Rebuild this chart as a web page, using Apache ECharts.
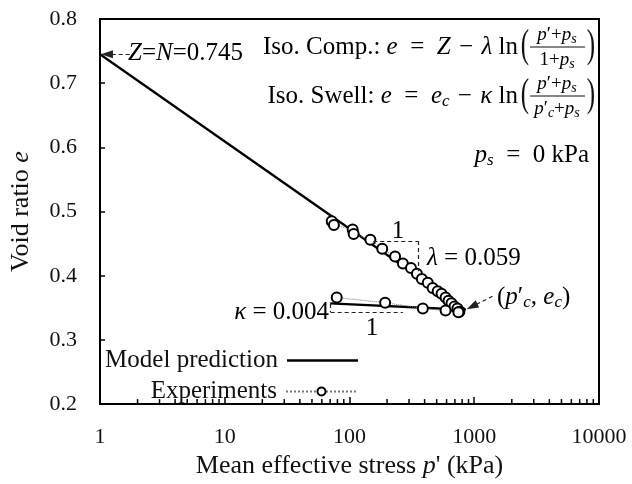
<!DOCTYPE html>
<html>
<head>
<meta charset="utf-8">
<script src="https://cdn.jsdelivr.net/npm/echarts@6/dist/echarts.min.js"></script>
<style>
  html, body { margin: 0; padding: 0; background: #fff; }
  #chart { width: 632px; height: 484px; }
</style>
</head>
<body>
<div id="chart"></div>
<script>
// Isotropic compression / swelling: void ratio against mean effective stress (log scale)

// Model prediction: compression line from (1, Z) to (p'c, ec), then swelling line back
const compModelP = [1, 850];
const compModelE = [0.745, 0.347];
const swellModelP = [850, 70];
const swellModelE = [0.347, 0.357];

// Experimental points: loading branch, then unloading branch
const compExpP = [72, 75, 106, 108, 147, 183, 232, 268, 311, 347, 380, 424, 464, 509, 547, 589, 622, 657, 694, 733, 760];
const compExpE = [0.485, 0.479, 0.472, 0.465, 0.456, 0.442, 0.430, 0.419, 0.412, 0.403, 0.395, 0.389, 0.381, 0.376, 0.372, 0.366, 0.361, 0.357, 0.352, 0.349, 0.344];
const swellExpP = [746, 589, 387, 193, 79];
const swellExpE = [0.343, 0.346, 0.349, 0.358, 0.366];

// Axes
const xTickLabels = ['1', '10', '100', '1000', '10000'];
const yTickLabels = ['0.2', '0.3', '0.4', '0.5', '0.6', '0.7', '0.8'];
const minorTicksX = [2, 3, 4, 5, 6, 7, 8, 9,
  20, 30, 40, 50, 60, 70, 80, 90,
  200, 300, 400, 500, 600, 700, 800, 900,
  2000, 3000, 4000, 5000, 6000, 7000, 8000, 9000];

const FONT = "'Liberation Serif', 'Times New Roman', serif";
const INK = '#111';
const EN = '\u2002';   // en space around "="
const TH = '\u2004';   // three-per-em space around "−"

const rich = {
  n: { fontFamily: FONT, fontSize: 25, color: INK },
  i: { fontFamily: FONT, fontSize: 25, fontStyle: 'italic', color: INK },
  sub: { fontFamily: FONT, fontSize: 17, fontStyle: 'italic', color: INK, padding: [12, 0, 0, 0] },
  fn: { fontFamily: FONT, fontSize: 19, color: INK },
  fi: { fontFamily: FONT, fontSize: 19, fontStyle: 'italic', color: INK },
  fs: { fontFamily: FONT, fontSize: 14, fontStyle: 'italic', color: INK, padding: [9, 0, 0, 0] },
  t: { fontFamily: FONT, fontSize: 26, color: INK },
  ti: { fontFamily: FONT, fontSize: 26, fontStyle: 'italic', color: INK }
};

function pairs(xs, ys) { return xs.map((x, k) => [x, ys[k]]); }

const modelData = pairs(compModelP, compModelE).concat(pairs(swellModelP.slice(1), swellModelE.slice(1)));
const expData = pairs(compExpP, compExpE).concat(pairs(swellExpP, swellExpE));

const yMin = Number(yTickLabels[0]);
const yMax = Number(yTickLabels[yTickLabels.length - 1]);

function txt(x, y, text, align) {
  return {
    type: 'text', x: x, y: y, silent: true,
    style: { text: text, rich: rich, align: align || 'left', verticalAlign: 'middle' }
  };
}
function paren(x, y, ch) {
  return { type: 'text', x: x, y: y, scaleY: 1.6, silent: true,
    style: { text: ch, fontFamily: FONT, fontSize: 25, fill: INK, align: 'center', verticalAlign: 'middle' } };
}
function bar(x1, x2, y) {
  return { type: 'line', silent: true, shape: { x1: x1, y1: y, x2: x2, y2: y },
    style: { stroke: INK, lineWidth: 1 } };
}

const dash = { type: [4, 3], color: '#222', width: 1.2 };
const legendText = { fontFamily: FONT, fontSize: 25, color: INK, padding: [0, 4, 0, 0] };

const option = {
  animation: false,
  backgroundColor: '#fff',
  grid: { left: 97, right: 33, top: 19, bottom: 74, show: true, borderColor: '#000', borderWidth: 2 },
  xAxis: {
    type: 'log', logBase: 10, min: 1, max: 10000,
    axisLine: { lineStyle: { color: '#000', width: 2 } },
    axisTick: { inside: true, length: 7, lineStyle: { color: '#000', width: 1.5 } },
    axisLabel: { fontFamily: FONT, fontSize: 22, color: INK, margin: 22,
      formatter: v => xTickLabels[Math.round(Math.log10(v))] },
    splitLine: { show: false },
    name: "{t|Mean effective stress }{ti|p}{t|' (kPa)}",
    nameLocation: 'middle', nameGap: 47,
    nameTextStyle: { rich: rich }
  },
  yAxis: {
    type: 'value', min: yMin, max: yMax, interval: 0.1,
    axisLine: { lineStyle: { color: '#000', width: 2 } },
    axisTick: { inside: true, length: 5, lineStyle: { color: '#000', width: 1.5 } },
    axisLabel: { fontFamily: FONT, fontSize: 22, color: INK, margin: 23,
      formatter: v => v.toFixed(1) },
    splitLine: { show: false },
    name: '{t|Void ratio }{ti|e}',
    nameLocation: 'middle', nameGap: 66, nameRotate: 90,
    nameTextStyle: { rich: rich }
  },
  legend: [
    { data: [{ name: 'Model prediction', icon: 'rect' }], right: 269, top: 343, align: 'right',
      itemWidth: 71, itemHeight: 2.5, selectedMode: false, textStyle: legendText },
    { data: ['Experiments'], right: 269, top: 374, align: 'right', itemWidth: 71, itemHeight: 10,
      selectedMode: false, textStyle: legendText }
  ],
  series: [
    {
      name: 'minor ticks', type: 'custom', silent: true, z: 5,
      data: minorTicksX.map(v => [v, yMin]),
      renderItem: (params, api) => {
        const pt = api.coord([api.value(0), api.value(1)]);
        return { type: 'line', shape: { x1: pt[0], y1: pt[1], x2: pt[0], y2: pt[1] - 5 },
          style: { stroke: '#000', lineWidth: 1.5 } };
      }
    },
    {
      name: 'Model prediction', type: 'line', data: modelData, symbol: 'none', silent: true, z: 3,
      lineStyle: { color: '#000', width: 2.3 },
      itemStyle: { color: '#000' },
      markLine: {
        silent: true, symbol: 'none', label: { show: false }, lineStyle: dash,
        data: [
          // lambda triangle
          [{ coord: [155, 0.454] }, { coord: [353, 0.454] }],
          [{ coord: [353, 0.454] }, { coord: [353, 0.407] }],
          // kappa triangle
          [{ coord: [70.6, 0.356] }, { coord: [70.6, 0.343] }],
          [{ coord: [70.6, 0.343] }, { coord: [268, 0.343] }],
          // pointer to the intercept Z
          [{ coord: [1.73, 0.745] }, { coord: [1.137, 0.745], symbol: 'triangle', symbolSize: [8, 12] }],
          // pointer to (p'c, ec)
          [{ coord: [1400, 0.368] }, { coord: [960, 0.352], symbol: 'triangle', symbolSize: [8, 12] }]
        ]
      }
    },
    {
      name: 'Experiments', type: 'line', data: expData, z: 4,
      symbol: 'emptyCircle', symbolSize: 10,
      itemStyle: { color: '#000', borderWidth: 2.2 },
      lineStyle: { type: 'dotted', color: '#777', width: 1 }
    }
  ],
  graphic: [
    txt(128, 53, '{i|Z}{n|=}{i|N}{n|=0.745}', 'left'),
    // isotropic compression equation
    txt(518, 47, '{n|Iso. Comp.: }{i|e}{n|' + EN + '=' + EN + '}{i|Z}{n|' + TH + '−' + TH + '}{i|λ}{n| ln}', 'right'),
    paren(525, 46, '('),
    txt(557, 35, '{fi|p}{fn|′+}{fi|p}{fs|s}', 'center'),
    bar(530, 585, 47),
    txt(557, 60, '{fn|1+}{fi|p}{fs|s}', 'center'),
    paren(591, 46, ')'),
    // isotropic swelling equation
    txt(518, 96, '{n|Iso. Swell: }{i|e}{n|' + EN + '=' + EN + '}{i|e}{sub|c}{n|' + TH + '−' + TH + '}{i|κ}{n| ln}', 'right'),
    paren(525, 95, '('),
    txt(557, 84, '{fi|p}{fn|′+}{fi|p}{fs|s}', 'center'),
    bar(530, 585, 96),
    txt(557, 109, '{fi|p}{fn|′}{fs|c}{fn|+}{fi|p}{fs|s}', 'center'),
    paren(591, 95, ')'),
    txt(589, 155, '{i|p}{sub|s}{n|' + EN + '=' + EN + '0 kPa}', 'right'),
    // slope annotations
    txt(398, 231, '{n|1}', 'center'),
    txt(427, 258, '{i|λ}{n| = 0.059}', 'left'),
    txt(329, 312, '{i|κ}{n| = 0.004}', 'right'),
    txt(372, 328, '{n|1}', 'center'),
    txt(497, 297, '{n|(}{i|p}{n|′}{sub|c}{n|, }{i|e}{sub|c}{n|)}', 'left')
  ]
};

const chart = echarts.init(document.getElementById('chart'), null, { renderer: 'canvas' });
chart.setOption(option);
</script>
</body>
</html>
